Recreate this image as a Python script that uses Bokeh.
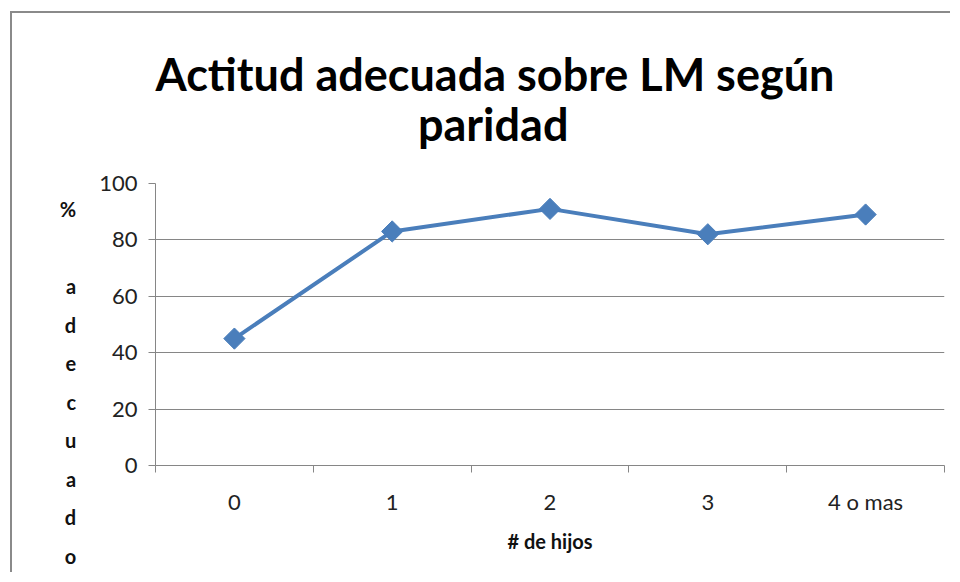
from bokeh.plotting import figure
from bokeh.models import FixedTicker
from bokeh.embed import file_html
from bokeh.resources import INLINE
import numpy as np

categories = ["0", "1", "2", "3", "4 o mas"]
values = [45, 83, 91, 82, 89]
y_ticks = [0, 20, 40, 60, 80, 100]
title_lines = ["Actitud adecuada sobre LM según", "paridad"]
y_letters = [" ", " ", " ", "%", " ", "a", "d", "e", "c", "u", "a", "d", "o"]
x_label = "# de hijos"

W, H = 940, 561
xs = list(range(len(categories)))

p = figure(width=W, height=H, output_backend="svg", toolbar_location=None,
           x_range=(-0.5, len(categories) - 0.5), y_range=(0, 100),
           min_border_left=143, min_border_right=8, min_border_top=170,
           min_border_bottom=109)
p.styles = {"margin-left": "10px", "margin-top": "11px",
            "border-left": "2px solid #8a8a8a", "border-top": "2px solid #8a8a8a"}
p.outline_line_color = None
p.background_fill_color = "white"
p.border_fill_color = "white"

grid_col = "#868686"
font = "Lato"

# title: two lines, second line centred under the first with no-break spaces
pad = "\u00a0" * 24
p.title.text = title_lines[0] + "\n" + pad + title_lines[1]
p.title.align = "left"
p.title.offset = 0
p.title.text_font = font
p.title.text_font_style = "bold"
p.title.text_font_size = "45px"
p.title.text_color = "#000000"
p.title.text_line_height = 0.93
p.title.standoff = 64

# x axis
p.xaxis.ticker = FixedTicker(ticks=xs, minor_ticks=[i - 0.5 for i in range(len(categories) + 1)])
p.xaxis.major_label_overrides = {i: c for i, c in zip(xs, categories)}
p.xaxis.major_tick_line_color = None
p.xaxis.minor_tick_line_color = grid_col
p.xaxis.minor_tick_in = 0
p.xaxis.minor_tick_out = 7
p.xaxis.axis_line_color = grid_col
p.xaxis.major_label_text_font = font
p.xaxis.major_label_text_font_size = "22px"
p.xaxis.major_label_text_color = "#222222"
p.xaxis.major_label_standoff = 15
p.xaxis.axis_label = x_label
p.xaxis.axis_label_text_font = font
p.xaxis.axis_label_text_font_style = "bold"
p.xaxis.axis_label_text_font_size = "20px"
p.xaxis.axis_label_text_color = "#111111"
p.xaxis.axis_label_standoff = 11
p.xgrid.grid_line_color = None

# y axis
p.yaxis.ticker = FixedTicker(ticks=y_ticks)
p.yaxis.minor_tick_line_color = None
p.yaxis.major_tick_line_color = grid_col
p.yaxis.major_tick_in = 0
p.yaxis.major_tick_out = 7
p.yaxis.axis_line_color = grid_col
p.yaxis.major_label_text_font = font
p.yaxis.major_label_text_font_size = "22px"
p.yaxis.major_label_text_color = "#222222"
p.yaxis.major_label_standoff = 11
p.yaxis.axis_label = "\n".join(y_letters)
p.yaxis.axis_label_orientation = "horizontal"
p.yaxis.axis_label_text_font = font
p.yaxis.axis_label_text_font_style = "bold"
p.yaxis.axis_label_text_font_size = "20px"
p.yaxis.axis_label_text_color = "#111111"
p.yaxis.axis_label_text_line_height = 1.605
p.yaxis.axis_label_text_align = "center"
p.yaxis.axis_label_standoff = 20
p.ygrid.grid_line_color = grid_col
p.ygrid.grid_line_width = 1

# data
p.line(xs, values, line_color="#4a7ebb", line_width=4)
p.scatter(xs, values, marker="square", size=15, angle=np.pi / 4,
          fill_color="#4a7ebb", line_color="#4a7ebb")

open("out.html", "w").write(file_html(p, INLINE))
